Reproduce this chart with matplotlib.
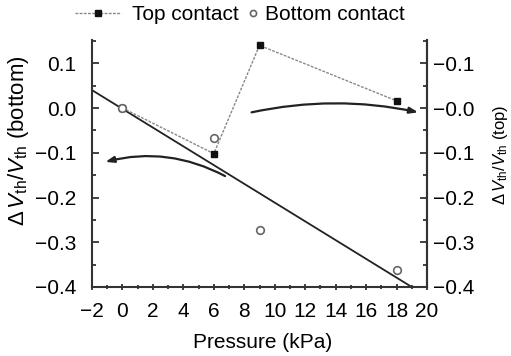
import numpy as np
import matplotlib
matplotlib.use("Agg")
import matplotlib.pyplot as plt
import matplotlib.ticker as mticker

plt.rcParams['font.family'] = ['Liberation Sans', 'DejaVu Sans']
plt.rcParams['mathtext.fontset'] = 'custom'
plt.rcParams['mathtext.rm'] = 'Liberation Sans'
plt.rcParams['mathtext.it'] = 'Liberation Sans:italic'

# Data
top_p = [0, 6, 9, 18]
top_dv = [0.0, -0.102, 0.14, 0.016]
bot_p = [0, 6, 9, 18]
bot_dv = [0.0, -0.066, -0.272, -0.362]
fit_p = [-2, 19]
fit_dv = [0.04, -0.40]
right_labels = ["\u22120.4", "\u22120.3", "\u22120.2", "\u22120.1", "\u22120.0", "\u22120.1"]
right_ticks = [-0.4, -0.3, -0.2, -0.1, 0.0, 0.1]

W, H = 511, 356
fig = plt.figure(figsize=(W / 100, H / 100), dpi=100)
ax = fig.add_axes([92 / W, 1 - 287 / H, 335 / W, 247 / H])

ax.plot(fit_p, fit_dv, color="#222222", lw=1.3)
l_top, = ax.plot(top_p, top_dv, color="#888888", ls=(0, (2, 1)), lw=1.0,
                 marker="s", ms=5, mfc="#111111", mec="#111111", label="Top contact")
l_bot, = ax.plot(bot_p, bot_dv, ls="none", marker="o", ms=5.5, mfc="white",
                 mec="#666666", mew=1.2, label="Bottom contact")

# Curved arrows
ax.annotate("", xy=(-1.3, -0.122), xytext=(6.9, -0.155),
            arrowprops=dict(arrowstyle="-|>,head_length=0.5,head_width=0.18",
                            connectionstyle="arc3,rad=0.2", color="#222222", lw=1.6))
ax.annotate("", xy=(19.6, -0.011), xytext=(8.3, -0.011),
            arrowprops=dict(arrowstyle="-|>,head_length=0.5,head_width=0.18",
                            connectionstyle="arc3,rad=-0.11", color="#222222", lw=1.6))

ax.set_xlim(-2, 20)
ax.set_ylim(-0.4, 0.152)
ax.xaxis.set_major_locator(mticker.MultipleLocator(2))
ax.xaxis.set_minor_locator(mticker.MultipleLocator(1))
ax.set_yticks([-0.4, -0.3, -0.2, -0.1, 0.0, 0.1])
ax.yaxis.set_major_formatter(mticker.FuncFormatter(lambda v, p: f"{v:.1f}".replace("-", "\u2212")))
ax.yaxis.set_minor_locator(mticker.MultipleLocator(0.05))
ax.tick_params(which="both", direction="in", labelsize=15, color="#333333", width=1.3)
ax.tick_params(which="major", length=5)
ax.tick_params(which="minor", length=3)
ax.tick_params(axis="x", which="both", direction="inout", pad=8)
ax.tick_params(axis="y", pad=11)
ax.spines["top"].set_visible(False)
for s in ["left", "bottom", "right"]:
    ax.spines[s].set_linewidth(1.5)
    ax.spines[s].set_color("#333333")

ax2 = ax.twinx()
ax2.set_ylim(ax.get_ylim())
ax2.set_yticks(right_ticks)
ax2.set_yticklabels(right_labels)
ax2.yaxis.set_minor_locator(mticker.MultipleLocator(0.05))
ax2.tick_params(which="both", direction="in", labelsize=15, color="#333333", width=1.3)
ax2.tick_params(which="major", length=5, pad=4)
ax2.tick_params(which="minor", length=3)
for s in ["top", "left", "bottom"]:
    ax2.spines[s].set_visible(False)
ax2.spines["right"].set_linewidth(1.5)
ax2.spines["right"].set_color("#333333")

# Axis titles placed in figure pixels
fig.text(263 / W, 1 - 342 / H, "Pressure (kPa)", fontsize=15, ha="center", va="center")
fig.text(19 / W, 1 - 141 / H, r"$\Delta\,V_{\mathrm{th}}/V_{\mathrm{th}}$ (bottom)",
         fontsize=16, rotation=90, ha="center", va="center")
fig.text(500 / W, 1 - 155 / H, r"$\Delta\,V_{\mathrm{th}}/V_{\mathrm{th}}$ (top)",
         fontsize=12, rotation=90, ha="center", va="center")

leg1 = fig.legend(handles=[l_top], loc="center left", bbox_to_anchor=(75 / W, 1 - 15 / H),
                  frameon=False, fontsize=15, handlelength=2.2, handletextpad=0.55,
                  borderpad=0, borderaxespad=0)
leg2 = fig.legend(handles=[l_bot], loc="center left", bbox_to_anchor=(247 / W, 1 - 15 / H),
                  frameon=False, fontsize=15, handlelength=0.6, handletextpad=0.25,
                  borderpad=0, borderaxespad=0, markerscale=0.8)

fig.savefig("out.png", dpi=100)
